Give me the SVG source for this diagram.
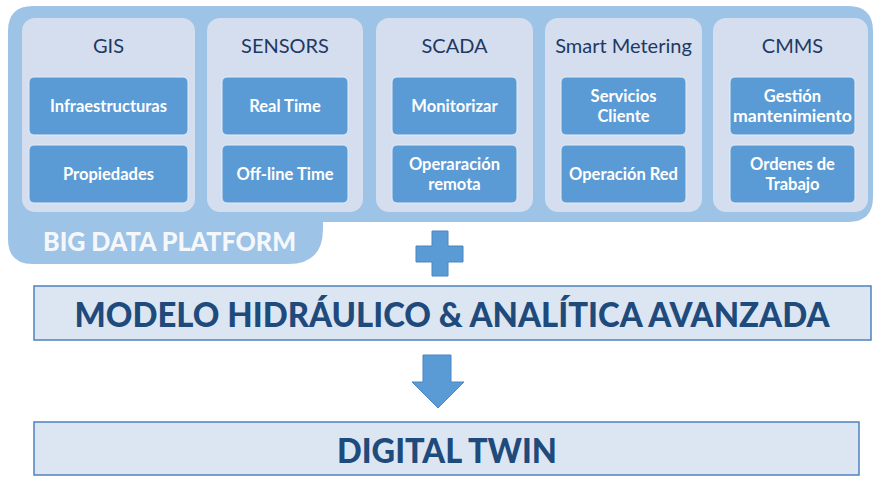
<svg xmlns="http://www.w3.org/2000/svg" width="874" height="477" viewBox="0 0 874 477">
  <style>
    .col { fill: #D4DEEE; }
    .cell { fill: #5B9BD5; stroke: #E4ECF7; stroke-width: 1; }
    .ttl { font-family: Lato, "Open Sans", "Liberation Sans", sans-serif; font-size: 20px; fill: #1F3864; text-anchor: middle; }
    .lbl { font-family: Lato, "Open Sans", "Liberation Sans", sans-serif; font-size: 16.5px; font-weight: bold; fill: #FFFFFF; text-anchor: middle; }
    .band { fill: #DCE6F3; stroke: #4F81BD; stroke-width: 1.5; }
    .big { font-family: Lato, "Open Sans", "Liberation Sans", sans-serif; font-weight: 900; fill: #1F4A7C; text-anchor: middle; }
    .sym { fill: #5B9BD5; stroke: #4A86C0; stroke-width: 1; }
  </style>

  <!-- platform backdrop with tab holding its label -->
  <g id="platform">
    <path d="M33 6 H848 Q873 6 873 31 V197 Q873 222 848 222 H323 V229 Q323 264 288 264 H33 Q8 264 8 239 V31 Q8 6 33 6 Z" fill="#9DC3E6"/>
    <text x="43" y="251" font-family="Lato, 'Open Sans', 'Liberation Sans', sans-serif" font-size="26" font-weight="900" fill="#F4F8FC" textLength="253" lengthAdjust="spacingAndGlyphs">BIG DATA PLATFORM</text>
  </g>

  <g id="gis">
    <rect class="col" x="22" y="18" width="173" height="194" rx="13"/>
    <text class="ttl" x="108.5" y="53">GIS</text>
    <rect class="cell" x="29" y="77" width="159" height="58" rx="5"/>
    <text class="lbl" x="108.5" y="111.5">Infraestructuras</text>
    <rect class="cell" x="29" y="145" width="159" height="58" rx="5"/>
    <text class="lbl" x="108.5" y="179.5">Propiedades</text>
  </g>

  <g id="sensors">
    <rect class="col" x="207" y="18" width="156" height="194" rx="13"/>
    <text class="ttl" x="285" y="53">SENSORS</text>
    <rect class="cell" x="222" y="77" width="126" height="58" rx="5"/>
    <text class="lbl" x="285" y="111.5">Real Time</text>
    <rect class="cell" x="222" y="145" width="126" height="58" rx="5"/>
    <text class="lbl" x="285" y="179.5">Off-line Time</text>
  </g>

  <g id="scada">
    <rect class="col" x="376" y="18" width="157" height="194" rx="13"/>
    <text class="ttl" x="454.5" y="53">SCADA</text>
    <rect class="cell" x="392" y="77" width="125" height="58" rx="5"/>
    <text class="lbl" x="454.5" y="111.5">Monitorizar</text>
    <rect class="cell" x="392" y="145" width="125" height="58" rx="5"/>
    <text class="lbl" x="454.5" y="170">Operaración</text>
    <text class="lbl" x="454.5" y="189.5">remota</text>
  </g>

  <g id="smart-metering">
    <rect class="col" x="545" y="18" width="157" height="194" rx="13"/>
    <text class="ttl" x="623.5" y="53">Smart Metering</text>
    <rect class="cell" x="561" y="77" width="125" height="58" rx="5"/>
    <text class="lbl" x="623.5" y="102">Servicios</text>
    <text class="lbl" x="623.5" y="121.5">Cliente</text>
    <rect class="cell" x="561" y="145" width="125" height="58" rx="5"/>
    <text class="lbl" x="623.5" y="179.5">Operación Red</text>
  </g>

  <g id="cmms">
    <rect class="col" x="713" y="18" width="155" height="194" rx="13"/>
    <text class="ttl" x="792.5" y="53">CMMS</text>
    <rect class="cell" x="730" y="77" width="125" height="58" rx="5"/>
    <text class="lbl" x="792.5" y="102">Gestión</text>
    <text class="lbl" x="792.5" y="121.5" textLength="119" lengthAdjust="spacingAndGlyphs">mantenimiento</text>
    <rect class="cell" x="730" y="145" width="125" height="58" rx="5"/>
    <text class="lbl" x="792.5" y="170">Ordenes de</text>
    <text class="lbl" x="792.5" y="189.5">Trabajo</text>
  </g>

  <g id="model">
    <rect class="band" x="34" y="286" width="837" height="54"/>
    <text class="big" x="452" y="327" font-size="34" textLength="755" lengthAdjust="spacingAndGlyphs">MODELO HIDRÁULICO &amp; ANALÍTICA AVANZADA</text>
  </g>

  <g id="digital-twin">
    <rect class="band" x="34" y="422" width="825" height="53"/>
    <text class="big" x="447" y="463" font-size="34" textLength="220" lengthAdjust="spacingAndGlyphs">DIGITAL TWIN</text>
  </g>

  <!-- plus sign and downward arrow linking the stages -->
  <g id="connectors">
    <path class="sym" d="M432 231 H448 V246 H463 V262 H448 V276 H432 V262 H416 V246 H432 Z"/>
    <path class="sym" d="M423 355 H451 V382 H464 L438 408 L412 382 H423 Z"/>
  </g>
</svg>
